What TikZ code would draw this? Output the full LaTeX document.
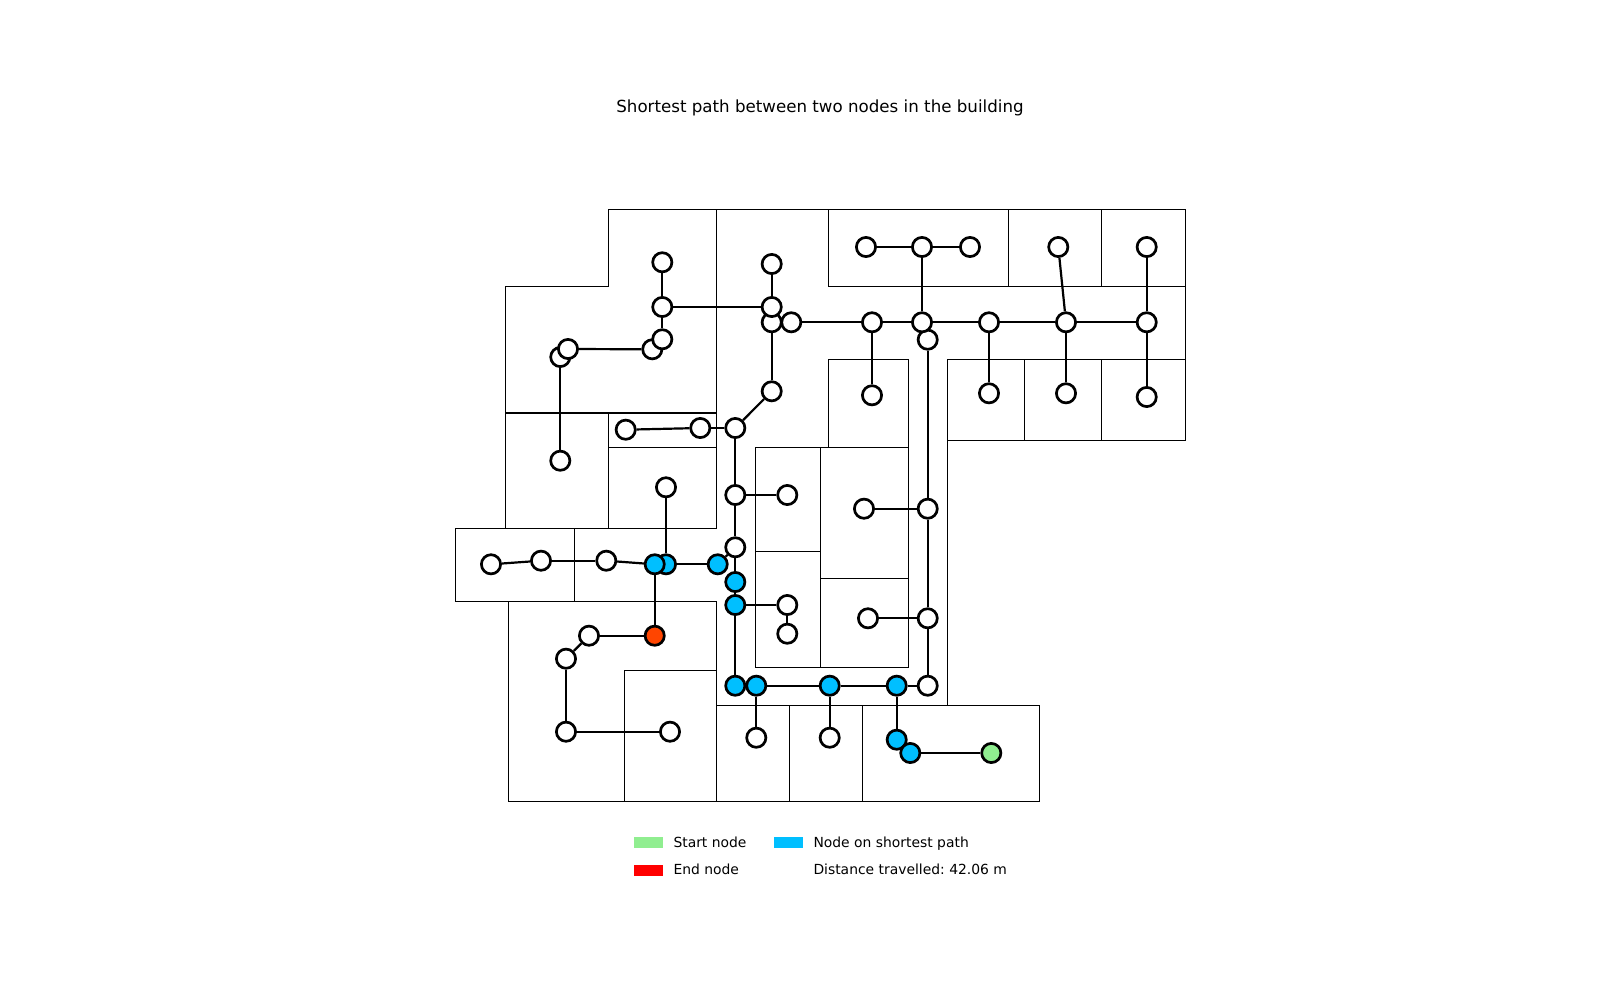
\documentclass[tikz,border=0pt]{standalone}
\usepackage{fontspec}
\setmainfont{DejaVu Sans}
\frenchspacing
\usetikzlibrary{backgrounds}
\definecolor{startc}{HTML}{90EE90}
\definecolor{pathc}{HTML}{00BFFF}
\definecolor{endc}{HTML}{FF4500}
\definecolor{endleg}{HTML}{FF0000}
\tikzset{
  x=1pt,y=-1pt,
  wall/.style={draw=black,line width=1.5pt,line join=miter},
  link/.style={draw=black,line width=2.2pt},
  pt/.style={circle,draw=black,line width=2.7pt,fill=white,minimum size=19.2pt,inner sep=0pt},
  sp/.style={pt,fill=pathc},
  legtext/.style={anchor=base west,font=\fontsize{13.89pt}{16pt}\selectfont,text=black,inner sep=0pt}
}
\begin{document}
\begin{tikzpicture}
\useasboundingbox (0,0) rectangle (1600,1000);
% nodes
\foreach \n/\x/\y in {
 a/662.3/262.3, d/652.3/349.3, c/662.3/339.3, b/662.3/307, f/560.3/357, e/568/349, g/560.3/460.7,
 h/625.7/429.7, i/700.3/428, j/735.3/428, k/771.7/391.3, l/771.7/322.3, o/791.3/322.3, m/771.7/307, n/771.7/264,
 p/666/487.3, q/735.3/495, r/787.3/495,
 t1/866/247, t2/922/247, t3/970/247, t4/1058.3/247, t5/1146.7/247,
 u6/927.7/339.7, u1/872/322.3, u2/922/322.3, u3/989/322.3, u4/1066/322.3, u5/1146.7/322.3,
 v1/872/395.3, v3/989/393.3, v4/1066/393.3, v5/1146.7/397,
 w1/864/508.7, w2/927.7/508.7, x1/868/618.3, x2/927.7/618.3, x3/927.7/685.7,
 y1/491/564.3, y2/541/560.7, y3/606.3/560.7, z1/735.3/547.3,
 s1/787.3/605, s2/787.3/633.7, s3/589/635.7, s4/566/658.7, s5/566/731.7, s6/670/731.7,
 s7/756.3/737.7, s8/829.7/737.7}
 {\node[pt] (\n) at (\x,\y) {};}
\foreach \n/\x/\y in {
 b2/666/564.3, b1/654.7/564.3, b3/717.7/564.3, b4/735.3/582, b5/735.3/605,
 b6/735.3/685.7, b7/756.3/685.7, b8/829.7/685.7, b9/896.7/685.7, b10/896.7/739.7, b11/910.3/753}
 {\node[sp] (\n) at (\x,\y) {};}
\node[pt,fill=endc] (finish) at (654.7,635.7) {};
\node[pt,fill=startc] (begin) at (991.3,753) {};
% texts
\node[anchor=base,font=\fontsize{16.67pt}{19pt}\selectfont,text=black,inner sep=0pt] (title) at (820,112.8) {Shortest path between two nodes in the building};
\node[legtext] (l1) at (673.3,847.3) {Start node};
\node[legtext] (l2) at (813.3,847.3) {Node on shortest path};
\node[legtext] (l3) at (673.3,874) {End node};
\node[legtext] (l4) at (813.3,874) {Distance travelled: 42.06 m};
\begin{scope}[on background layer]
\fill[white] (0,0) rectangle (1600,1000);
\fill[startc] (634,837) rectangle (663,848);
\fill[pathc] (774,837) rectangle (802.5,848);
\fill[endleg] (634,865) rectangle (663,876);
% rooms
\draw[wall] (608.3,209.5)--(716.7,209.5)--(716.7,413.2)--(505.3,413.2)--(505.3,286.5)--(608.3,286.5)--cycle;
\draw[wall] (505.3,413.2) rectangle (608.3,528.5);
\draw[wall] (608.3,413.2) rectangle (716.7,447.5);
\draw[wall] (608.3,447.5) rectangle (716.7,528.5);
\draw[wall] (455.3,528.5) rectangle (574.3,601.5);
\draw[wall] (508.7,601.5)--(716.7,601.5)--(716.7,670.5)--(624.3,670.5)--(624.3,801.5)--(508.7,801.5)--cycle;
\draw[wall] (624.3,670.5) rectangle (716.7,801.5);
\draw[wall] (716.7,705.5) rectangle (789.5,801.5);
\draw[wall] (789.5,705.5) rectangle (862.7,801.5);
\draw[wall] (862.7,705.5) rectangle (1039.3,801.5);
\draw[wall] (716.7,209.5)--(828.3,209.5)--(828.3,286.5)--(1185.3,286.5)--(1185.3,359.5)--(947.3,359.5)--(947.3,705.5)--(716.7,705.5)--(716.7,601.5)--(574.3,601.5)--(574.3,528.5)--(716.7,528.5)--cycle;
\draw[wall] (828.3,209.5) rectangle (1008.3,286.5);
\draw[wall] (1008.3,209.5) rectangle (1101.7,286.5);
\draw[wall] (1101.7,209.5) rectangle (1185.3,286.5);
\draw[wall] (947.3,359.5) rectangle (1024.3,440.5);
\draw[wall] (1024.3,359.5) rectangle (1101.7,440.5);
\draw[wall] (1101.7,359.5) rectangle (1185.3,440.5);
\draw[wall] (828.3,359.5) rectangle (908.5,447.5);
\draw[wall] (755.5,447.5) rectangle (820.3,551.5);
\draw[wall] (755.5,551.5) rectangle (820.3,667.5);
\draw[wall] (820.3,447.5) rectangle (908.5,578.5);
\draw[wall] (820.3,578.5) rectangle (908.5,667.5);
% connectors
\foreach \p/\q in {a/b,b/c,c/d,b/m,d/e,e/f,f/g,h/i,i/j,j/k,k/l,l/m,m/n,l/o,o/u1,u1/u2,u2/u3,u3/u4,u4/u5,
 u1/v1,u2/t2,t1/t2,t2/t3,t4/u4,t5/u5,u5/v5,u3/v3,u4/v4,u2/u6,u6/w2,w2/x2,x2/x3,w1/w2,x1/x2,
 j/q,q/r,q/z1,z1/b3,z1/b4,b4/b5,b5/b6,b5/s1,s1/s2,b6/b7,b7/b8,b8/b9,b9/x3,b7/s7,b8/s8,b9/b10,b10/b11,b11/begin,
 p/b2,b2/b3,b1/b2,y3/b1,y2/y3,y1/y2,b1/finish,s3/finish,s3/s4,s4/s5,s5/s6}
 {\draw[link] (\p) -- (\q);}
\end{scope}
\end{tikzpicture}
\end{document}
